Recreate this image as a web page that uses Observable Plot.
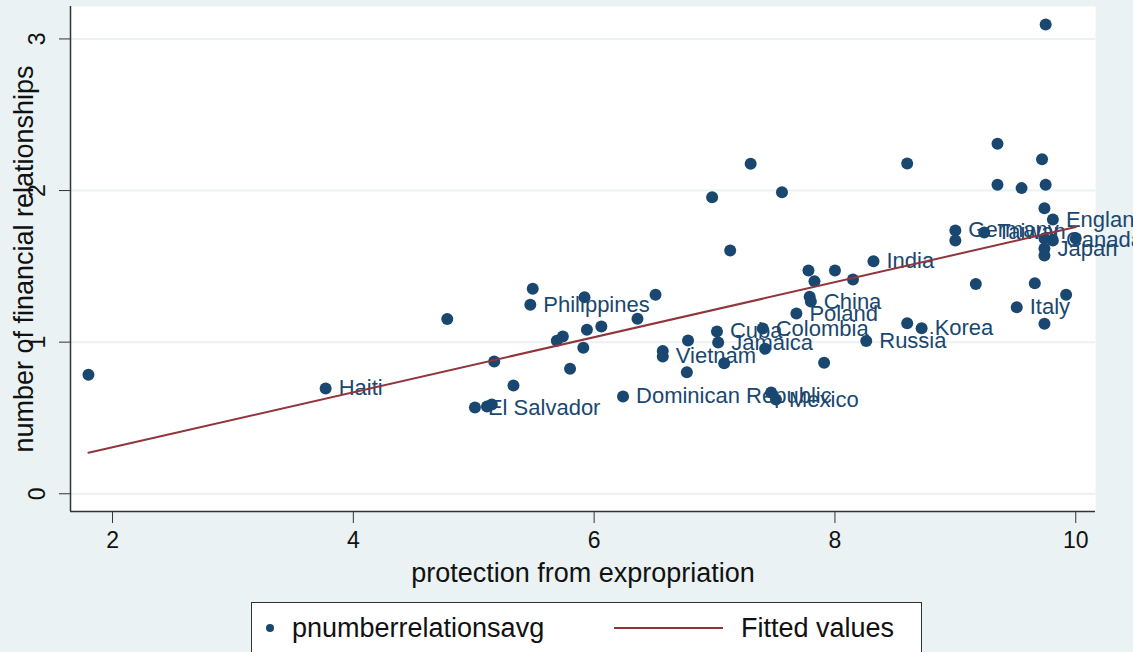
<!DOCTYPE html>
<html><head><meta charset="utf-8">
<script src="https://cdn.jsdelivr.net/npm/d3@7"></script>
<script src="https://cdn.jsdelivr.net/npm/@observablehq/plot@0.6"></script>
<style>
html,body{margin:0;padding:0;background:#EAF2F3;width:1133px;height:652px;overflow:hidden;font-family:"Liberation Sans",Arial,sans-serif;}
#chart{position:absolute;left:0;top:0;}
#legend{position:absolute;left:251px;top:602px;width:671px;height:60px;background:#fff;border:1px solid #333;box-sizing:border-box;}
#legend span{position:absolute;font-size:27px;line-height:30px;color:#111;white-space:nowrap;}
#legend svg{position:absolute;left:0;top:0;}
</style></head><body>
<div id="chart"></div>
<div id="legend"></div>
<script>
// Data
const labels = ["","Haiti","","El Salvador","","","","","Philippines","",
  "","","","","","","","","","Dominican Republic",
  "","Vietnam","","","","","","","Cuba","Jamaica",
  "","Colombia","","","Mexico","Poland","","China","","",
  "","","","Russia","India","","","Korea","","Germany",
  "","Taiwan","","","","","","","","England",
  "","Japan","","Canada","","Italy","","",""];
const protection = [1.80,3.77,4.78,5.01,5.11,5.15,5.17,5.33,5.47,5.49,
  5.69,5.74,5.80,5.91,5.94,5.92,6.06,6.36,6.51,6.24,
  6.57,6.57,6.77,6.78,6.98,7.30,7.56,7.13,7.02,7.03,
  7.08,7.40,7.42,7.47,7.51,7.68,7.79,7.80,7.91,7.83,
  8.00,8.15,7.78,8.26,8.32,8.60,8.60,8.72,9.17,9.00,
  9.00,9.24,9.35,9.35,9.55,9.72,9.75,9.75,9.74,9.81,
  9.74,9.74,9.74,9.81,10.0,9.51,9.66,9.92,9.74];
const relations = [0.785,0.695,1.152,0.569,0.576,0.589,0.873,0.714,1.247,1.352,
  1.009,1.038,0.825,0.963,1.082,1.297,1.104,1.154,1.313,0.642,
  0.941,0.906,0.802,1.011,1.956,2.177,1.989,1.605,1.071,0.998,
  0.861,1.090,0.956,0.668,0.622,1.189,1.300,1.268,0.864,1.402,
  1.473,1.414,1.473,1.007,1.534,2.178,1.125,1.092,1.384,1.737,
  1.671,1.724,2.309,2.038,2.016,2.207,3.096,2.038,1.884,1.809,
  1.684,1.618,1.572,1.671,1.684,1.231,1.389,1.313,1.121];
const fitX = [1.80, 10.0];
const fitY = [0.270, 1.759];
const xTicks = [2,4,6,8,10];
const yTicks = [0,1,2,3];
const xDomain = [1.651, 10.164];
const yDomain = [-0.117, 3.214];
const xTitle = "protection from expropriation";
const yTitle = "number of financial relationships";
const legendItems = ["pnumberrelationsavg","Fitted values"];

const navy = "#1A476F", maroon = "#90353B";
const pts = protection.map((x,i)=>({x, y: relations[i], label: labels[i]}));
const fit = fitX.map((x,i)=>({x, y: fitY[i]}));

const chart = Plot.plot({
  width: 1133, height: 600,
  marginLeft: 70, marginRight: 38, marginTop: 6, marginBottom: 89,
  x: {domain: xDomain},
  y: {domain: yDomain},
  style: {background: "transparent", fontFamily: "'Liberation Sans', Arial, sans-serif", overflow: "visible"},
  marks: [
    Plot.frame({fill: "white", stroke: null}),
    Plot.gridY(yTicks, {stroke: "#EAF2F3", strokeOpacity: 1, strokeWidth: 2}),
    Plot.ruleX([xDomain[0]], {stroke: "#333", strokeWidth: 1.5}),
    Plot.ruleY([yDomain[0]], {stroke: "#333", strokeWidth: 1.5}),
    Plot.axisY(yTicks, {tickSize: 11, tickFormat: () => "", label: null, stroke: "#333"}),
    Plot.text(yTicks, {y: d => d, text: d => String(d), frameAnchor: "left", dx: -33, rotate: -90, fontSize: 23, fill: "#111", textAnchor: "middle", lineAnchor: "middle"}),
    Plot.axisX(xTicks, {tickSize: 12, tickPadding: 8, fontSize: 23, label: null, stroke: "#333", fill: "#111", tickFormat: d => String(d)}),
    Plot.text([xTitle], {text: d => d, frameAnchor: "bottom", dy: 62, fontSize: 27, fill: "#111", textAnchor: "middle", lineAnchor: "middle"}),
    Plot.text([yTitle], {text: d => d, frameAnchor: "left", dx: -46, rotate: -90, fontSize: 27, fill: "#111", textAnchor: "middle", lineAnchor: "middle"}),
    Plot.dot(pts, {x: "x", y: "y", r: 6, fill: navy, stroke: null}),
    Plot.text(pts.filter(d => d.label), {x: "x", y: "y", text: "label", dx: 13, textAnchor: "start", lineAnchor: "middle", fontSize: 22, fill: navy}),
    Plot.line(fit, {x: "x", y: "y", stroke: maroon, strokeWidth: 2})
  ]
});
document.getElementById("chart").appendChild(chart);

// legend below the plot
const lg = document.getElementById("legend");
lg.innerHTML = `<svg width="671" height="60"><circle cx="18" cy="25" r="4" fill="${navy}"/><line x1="362" x2="471" y1="25" y2="25" stroke="${maroon}" stroke-width="2"/></svg>
<span style="left:40px;top:10px">${legendItems[0]}</span>
<span style="left:489px;top:10px">${legendItems[1]}</span>`;
</script>
</body></html>
